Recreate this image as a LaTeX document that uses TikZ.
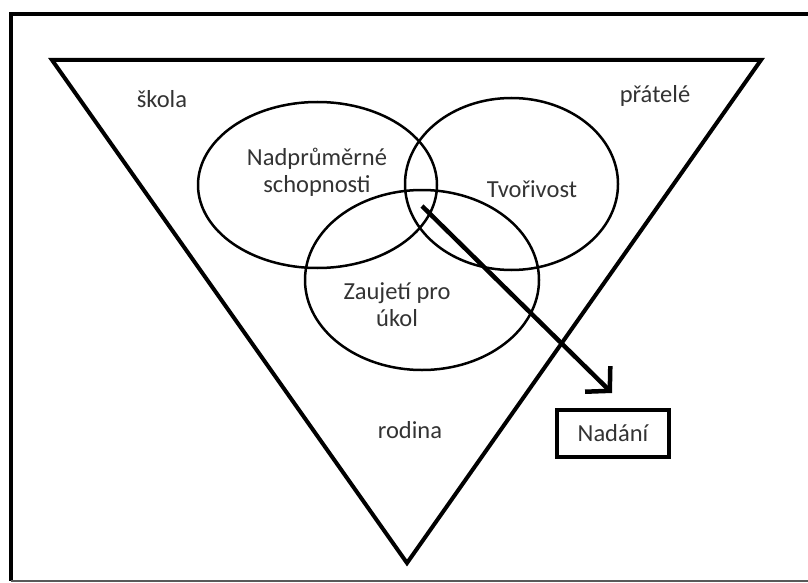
\documentclass[tikz,border=0pt]{standalone}
\usepackage{fontspec}
\setmainfont{Carlito}
\usetikzlibrary{shapes.geometric,arrows.meta}
\definecolor{txt}{HTML}{333333}
\tikzset{
  lbl/.style={text=txt,font=\fontsize{24.5}{27}\selectfont,align=center,inner sep=0pt},
  oval/.style={ellipse,draw=black,line width=2.5pt,inner sep=0pt},
  thick4/.style={line width=4pt},
}
\begin{document}
\begin{tikzpicture}[x=1pt,y=-1pt]
\useasboundingbox (0,0) rectangle (808,583);
\fill[white] (0,0) rectangle (808,583);
% frame
\coordinate (ftl) at (11,14);
\coordinate (ftr) at (808,14);
\coordinate (fbl) at (11,581);
\coordinate (fbr) at (808,581);
\draw[thick4] (ftr) -- (ftl) -- (fbl);
\draw[gray!70!black,line width=1.5pt] (fbl) -- (fbr);
% triangle
\coordinate (t1) at (52,60);
\coordinate (t2) at (761,60);
\coordinate (t3) at (407,563);
\draw[thick4,line join=miter] (t1) -- (t2) -- (t3) -- cycle;
% ellipses
\node[oval,minimum width=239pt,minimum height=166pt] (e1) at (317.5,185) {};
\node[oval,minimum width=213pt,minimum height=172pt] (e2) at (511.5,184) {};
\node[oval,minimum width=234pt,minimum height=180pt] (e3) at (422,280) {};
% labels
\node[lbl] (skola) at (162,99) {škola};
\node[lbl] (pratele) at (655,96) {přátelé};
\node[lbl] (l1) at (317,172) {Nadprůměrné\\schopnosti};
\node[lbl] (l2) at (532,189) {Tvořivost};
\node[lbl] (l3) at (397,305) {Zaujetí pro\\úkol};
\node[lbl] (rod) at (410,430) {rodina};
\node[lbl,draw=black,line width=4pt,minimum width=112pt,minimum height=47pt] (nad) at (613,433.5) {Nadání};
% arrow
\coordinate (as) at (422,206);
\coordinate (ae) at (612,393);
\draw[line width=4.5pt,-{Straight Barb[length=17pt,width=36pt,line width=4.5pt]}] (as) -- (ae);
\end{tikzpicture}
\end{document}
